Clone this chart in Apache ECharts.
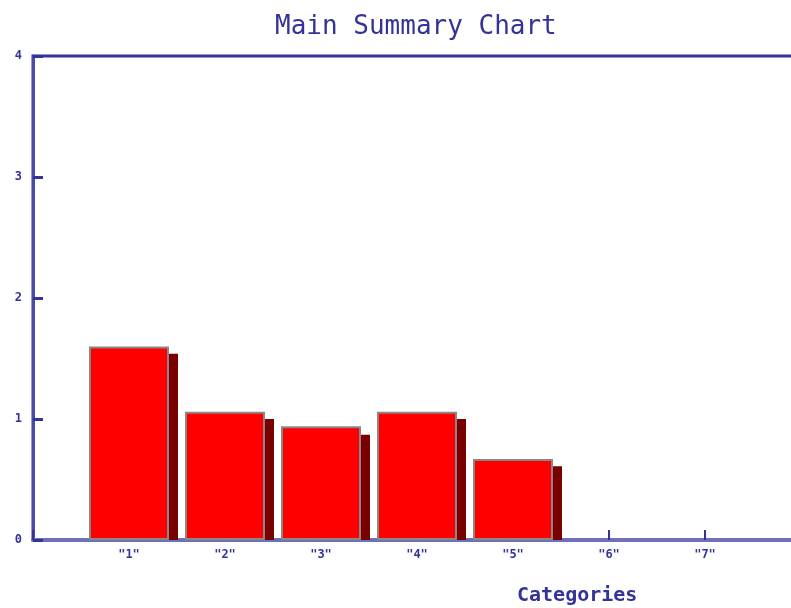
<!DOCTYPE html>
<html>
<head>
<meta charset="utf-8">
<script src="https://cdn.jsdelivr.net/npm/echarts@6/dist/echarts.min.js"></script>
<style>
html,body{margin:0;padding:0;background:#fff;}
#chart{width:791px;height:608px;}
</style>
</head>
<body>
<div id="chart"></div>
<script>
var categories = ['', '"1"', '"2"', '"3"', '"4"', '"5"', '"6"', '"7"', ''];
var mainValues = [null, 1.6, 1.06, 0.94, 1.06, 0.67, 0, 0, null];
var sideValues = [null, 1.54, 1.0, 0.87, 1.0, 0.61, 0, 0, null];
var yTicks = [0, 1, 2, 3, 4];

var navy = '#333399';
var mono = '"DejaVu Sans Mono", monospace';

function toItems(arr) {
  return arr.map(function (v) {
    if (v === 0) return { value: v, itemStyle: { borderWidth: 0, opacity: 0 } };
    return v;
  });
}

var chart = echarts.init(document.getElementById('chart'));
chart.setOption({
  animation: false,
  backgroundColor: '#ffffff',
  title: [
    { text: 'Main Summary Chart', left: 270, top: 9,
      textStyle: { fontFamily: mono, fontSize: 26, fontWeight: 'normal', color: navy } },
    { text: 'Categories', left: 512, top: 581,
      textStyle: { fontFamily: mono, fontSize: 20, fontWeight: 'bold', color: navy } }
  ],
  grid: [
    { left: 33, width: 768, top: 56, bottom: 68, outerBoundsMode: 'none', containLabel: false,
      show: true, borderColor: navy, borderWidth: 3, backgroundColor: 'transparent' },
    { left: 42, width: 768, top: 56, bottom: 68, outerBoundsMode: 'none', containLabel: false, show: false }
  ],
  xAxis: [
    { type: 'category', gridIndex: 0, data: categories, boundaryGap: false,
      axisLine: { show: true, lineStyle: { color: '#7070b8', width: 4 } },
      axisTick: { show: true, inside: true, length: 10, lineStyle: { color: navy, width: 2 } },
      axisLabel: { fontFamily: mono, fontSize: 12, fontWeight: 'bold', color: navy, margin: 9 },
      splitLine: { show: false } },
    { type: 'category', gridIndex: 1, data: categories, boundaryGap: false, show: false }
  ],
  yAxis: [
    { type: 'value', gridIndex: 0, min: yTicks[0], max: yTicks[yTicks.length - 1], interval: 1,
      axisLine: { show: true, lineStyle: { color: '#4a4aa8', width: 3 } },
      axisTick: { show: true, inside: true, length: 10, lineStyle: { color: navy, width: 3 } },
      axisLabel: { fontFamily: mono, fontSize: 12, fontWeight: 'bold', color: navy, margin: 11 },
      splitLine: { show: false } },
    { type: 'value', gridIndex: 1, min: yTicks[0], max: yTicks[yTicks.length - 1], interval: 1, show: false }
  ],
  series: [
    { type: 'bar', xAxisIndex: 1, yAxisIndex: 1, data: toItems(sideValues), barWidth: 80, z: 1,
      itemStyle: { color: '#7a0000' } },
    { type: 'bar', xAxisIndex: 0, yAxisIndex: 0, data: toItems(mainValues), barWidth: 80, z: 2,
      itemStyle: { color: '#ff0000', borderColor: '#888888', borderWidth: 2 } }
  ]
});
</script>
</body>
</html>
